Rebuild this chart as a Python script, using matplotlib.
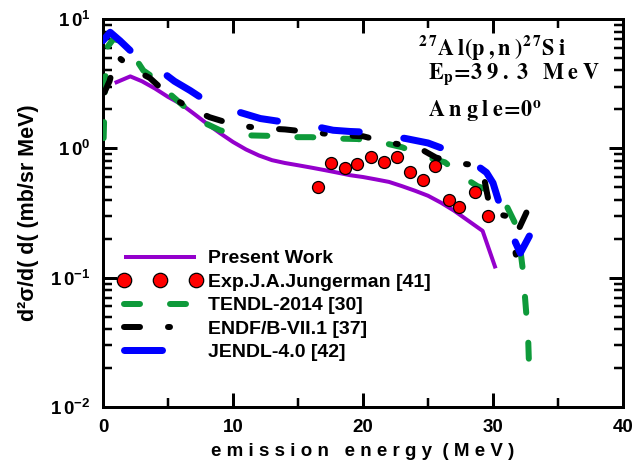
import matplotlib
matplotlib.use("Agg")
import matplotlib.pyplot as plt
from matplotlib.ticker import FixedLocator, FixedFormatter, MultipleLocator, LogLocator, NullFormatter

# ---- data -------------------------------------------------------------
present_x = [0.9, 2.1, 3.0, 4.0, 5.0, 6.0, 7.0, 8.0, 9.0, 10.0, 11.0, 12.0, 13.0,
             14.0, 15.0, 16.0, 17.0, 18.0, 19.0, 20.0, 21.0, 22.0, 23.0, 24.0,
             25.0, 26.0, 27.0, 28.0, 29.2, 30.2]
present_y = [3.2, 3.6, 3.3, 2.9, 2.5, 2.2, 1.85, 1.55, 1.31, 1.12, 0.98, 0.88, 0.81,
             0.77, 0.74, 0.71, 0.68, 0.65, 0.62, 0.60, 0.575, 0.55, 0.51, 0.47,
             0.43, 0.38, 0.33, 0.28, 0.23, 0.118]

exp_x = [16.5, 17.5, 18.6, 19.5, 20.6, 21.6, 22.6, 23.6, 24.6, 25.5, 26.6, 27.4, 28.6, 29.6]
exp_y = [0.50, 0.77, 0.71, 0.75, 0.85, 0.79, 0.85, 0.66, 0.57, 0.73, 0.40, 0.35, 0.46, 0.30]

tendl_x = [0.05, 0.15, 0.3, 0.8, 1.3, 2.2, 3.1, 4.2, 5.2, 6.5, 7.7, 9.0, 10.0, 11.1,
           12.6, 14.6, 16.0, 18.0, 19.6, 21.6, 23.0, 25.0, 26.3, 27.7, 28.8, 30.3,
           31.1, 31.9, 32.3, 32.5, 32.7, 32.8]
tendl_y = [1.2, 3.0, 6.0, 7.0, 6.8, 5.5, 4.0, 3.35, 2.6, 2.0, 1.59, 1.38, 1.30, 1.26,
           1.25, 1.22, 1.22, 1.19, 1.18, 1.10, 1.02, 0.85, 0.78, 0.60, 0.51, 0.45,
           0.35, 0.24, 0.114, 0.063, 0.035, 0.017]

endf_x = [0.1, 0.5, 1.05, 2.3, 3.6, 5.2, 6.9, 8.2, 10.3, 12.3, 14.0, 16.1, 18.4, 20.0,
          21.9, 24.2, 25.6, 27.1, 28.8, 29.3, 29.6, 29.8, 31.0, 32.7, 32.0, 31.5, 31.9]
endf_y = [2.7, 3.3, 5.2, 4.1, 3.5, 2.5, 2.0, 1.74, 1.5, 1.43, 1.40, 1.33, 1.26, 1.24,
          1.11, 1.02, 0.85, 0.77, 0.74, 0.60, 0.42, 0.32, 0.30, 0.34, 0.24, 0.20, 0.13]

jendl_x = [0.0, 0.55, 1.3, 2.1, 3.0, 4.4, 5.5, 6.7, 8.0, 9.5, 10.5, 12.1, 13.5, 15.2,
           16.0, 17.7, 19.0, 20.6, 22.0, 23.3, 25.0, 26.1, 27.0, 28.5, 29.5, 30.0,
           30.7, 31.5, 32.1, 32.8]
jendl_y = [6.8, 7.9, 6.8, 5.7, 4.8, 4.0, 3.3, 2.8, 2.3, 2.0, 1.9, 1.7, 1.62, 1.6,
           1.5, 1.38, 1.35, 1.33, 1.25, 1.19, 1.1, 1.0, 0.9, 0.77, 0.65, 0.54,
           0.32, 0.21, 0.155, 0.21]

labels = ["Present Work", "Exp.J.A.Jungerman [41]", "TENDL-2014 [30]",
          "ENDF/B-VII.1 [37]", "JENDL-4.0 [42]"]

x_ticks = [0, 10, 20, 30, 40]
y_ticks = [0.01, 0.1, 1, 10]
y_ticklabels = [r"$1\,0^{-2}$", r"$1\,0^{-1}$", r"$1\,0^{0}$", r"$1\,0^{1}$"]

# ---- style ------------------------------------------------------------
plt.rcParams["font.family"] = ["Liberation Sans", "DejaVu Sans"]
plt.rcParams["font.weight"] = "bold"
plt.rcParams["mathtext.fontset"] = "custom"
plt.rcParams["mathtext.rm"] = "Liberation Sans:bold"
plt.rcParams["mathtext.it"] = "Liberation Sans:bold"
plt.rcParams["mathtext.bf"] = "Liberation Sans:bold"
plt.rcParams["lines.scale_dashes"] = False

PX = 72 / 100  # points per pixel at dpi 100

fig = plt.figure(figsize=(6.33, 4.63), dpi=100)
ax = fig.add_axes([103 / 633, 1 - 407 / 463, 520 / 633, 388 / 463])

ax.plot(present_x, present_y, color="#9400cc", lw=4 * PX, solid_capstyle="butt",
        label=labels[0], zorder=3)
ax.plot(exp_x, exp_y, ls="none", marker="o", ms=12 * PX, mfc="#ff0000", mec="black",
        mew=0.9, label=labels[1], zorder=5)
ax.plot(tendl_x, tendl_y, color="#0e9a3a", lw=6 * PX, dash_capstyle="round",
        dashes=(16 * PX, 30 * PX), label=labels[2], zorder=4)
ax.plot(endf_x, endf_y, color="black", lw=6 * PX, dash_capstyle="round",
        dashes=(16 * PX, 28 * PX, 2 * PX, 28 * PX), label=labels[3], zorder=4)
ax.plot(jendl_x, jendl_y, color="#0000ff", lw=7 * PX, dash_capstyle="round",
        dashes=(38 * PX, 45 * PX), label=labels[4], zorder=4)

ax.set_yscale("log")
ax.set_xlim(0, 40)
ax.set_ylim(0.01, 10)

ax.xaxis.set_major_locator(FixedLocator(x_ticks))
ax.xaxis.set_major_formatter(FixedFormatter([str(v) for v in x_ticks]))
ax.xaxis.set_minor_locator(MultipleLocator(5))
ax.yaxis.set_major_locator(FixedLocator(y_ticks))
ax.yaxis.set_major_formatter(FixedFormatter(y_ticklabels))
ax.yaxis.set_minor_locator(LogLocator(base=10, subs=range(2, 10)))
ax.yaxis.set_minor_formatter(NullFormatter())

for s in ax.spines.values():
    s.set_linewidth(3 * PX)
ax.tick_params(which="both", direction="in", top=True, right=True)
ax.tick_params(which="major", length=14 * PX, width=3 * PX, labelsize=13.5, pad=9)
ax.tick_params(which="minor", length=9 * PX, width=2.5 * PX)

ax.set_xlabel("e m i s s i o n   e n e r g y  ( M e V )", fontsize=13.5,
              fontweight="bold", labelpad=5)
ax.set_ylabel("d²σ/d( d( (mb/sr MeV)", fontsize=15.5, fontweight="bold", labelpad=8)

leg = ax.legend(loc="upper left", bbox_to_anchor=(0.029, 0.405), frameon=False,
                fontsize=14, handlelength=4.3, handletextpad=0.3, labelspacing=0.3,
                borderpad=0, borderaxespad=0, numpoints=3, markerscale=1.2)

note_kw = dict(transform=ax.transAxes, fontsize=16, math_fontfamily="stix",
               ha="left", va="baseline")
ax.text((418 - 103) / 520, (407 - 55) / 388,
        r"$\mathbf{^{2\,7}A\;l(p\;,n\;)^{2\,7}S\;i}$", **note_kw)
ax.text((428 - 103) / 520, (407 - 79) / 388,
        r"$\mathbf{E_p\!=\!3\;9\;.\;3\;\;\;M\;e\;V}$", **note_kw)
ax.text((428 - 103) / 520, (407 - 118) / 388,
        r"$\mathbf{A\;n\;g\;l\;e\!=\!0^o}$", **note_kw)

fig.savefig("out.png", dpi=100)
